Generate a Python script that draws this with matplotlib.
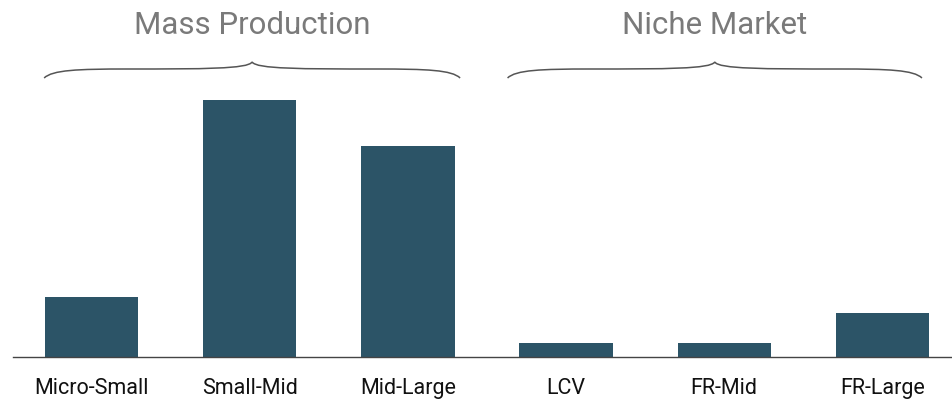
import numpy as np
import matplotlib.pyplot as plt
from matplotlib.path import Path
from matplotlib.patches import PathPatch

# data
categories = ['Micro-Small', 'Small-Mid', 'Mid-Large', 'LCV', 'FR-Mid', 'FR-Large']
values = [60, 257, 211, 14, 14, 44]
groups = ['Mass Production', 'Niche Market']

# where each brace starts/ends (in category units)
brace_spans = [(-0.30, 2.33), (2.63, 5.25)]

bar_color = '#2c5467'
plt.rcParams['font.family'] = ['Roboto', 'DejaVu Sans']

fig = plt.figure(figsize=(9.53, 3.99), dpi=100)
# axes runs a little past the right edge, like the original
ax = fig.add_axes([12.5 / 953, 42 / 399, 949 / 953, 357 / 399])

x = np.arange(len(categories))
bar_w = 0.59
ax.bar(x, values, width=bar_w, color=bar_color)
ax.set_xlim(-0.5, len(categories) - 0.5)
ax.set_ylim(0, 357)

for s in ['top', 'right', 'left']:
    ax.spines[s].set_visible(False)
ax.spines['bottom'].set_color('#444444')
ax.spines['bottom'].set_linewidth(1.0)
ax.set_yticks([])
ax.set_xticks(x)
ax.set_xticklabels(categories, fontsize=15.5, color='#111111')
ax.tick_params(axis='x', length=0, pad=15)


def brace(ax, x0, x1, y_end, y_mid, y_tip):
    # curly brace opening downward
    xc = (x0 + x1) / 2
    w = x1 - x0
    verts = [
        (x0, y_end),
        (x0 + 0.02 * w, y_mid - 1), (x0 + 0.08 * w, y_mid), (x0 + 0.2 * w, y_mid),
        (xc - 0.12 * w, y_mid), (xc - 0.01 * w, y_mid), (xc, y_tip),
        (xc + 0.01 * w, y_mid), (xc + 0.12 * w, y_mid), (x1 - 0.2 * w, y_mid),
        (x1 - 0.08 * w, y_mid), (x1 - 0.02 * w, y_mid - 1), (x1, y_end),
    ]
    codes = [Path.MOVETO] + [Path.CURVE4] * 12
    p = PathPatch(Path(verts, codes), fill=False, edgecolor='#555555', lw=1.1, clip_on=False)
    ax.add_patch(p)


for name, (x0, x1) in zip(groups, brace_spans):
    brace(ax, x0, x1, 279, 288, 295)
    ax.text((x0 + x1) / 2, 332, name, ha='center', va='center',
            fontsize=22.5, color='#7a7a7a', clip_on=False)

fig.savefig('out.png', dpi=100)
